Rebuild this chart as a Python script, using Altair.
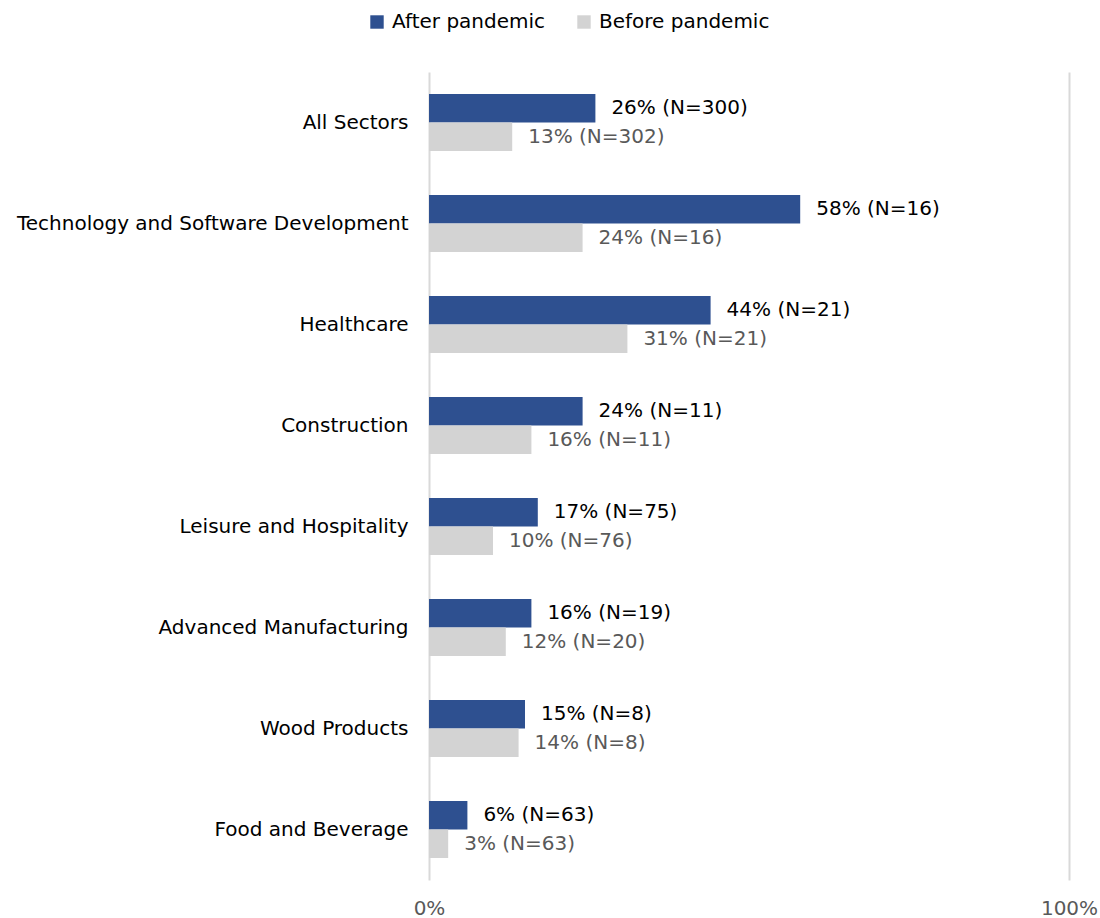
import altair as alt
import pandas as pd

categories = ["All Sectors", "Technology and Software Development", "Healthcare",
              "Construction", "Leisure and Hospitality", "Advanced Manufacturing",
              "Wood Products", "Food and Beverage"]
after_pct = [26, 58, 44, 24, 17, 16, 15, 6]
after_n = [300, 16, 21, 11, 75, 19, 8, 63]
before_pct = [13, 24, 31, 16, 10, 12, 14, 3]
before_n = [302, 16, 21, 11, 76, 20, 8, 63]
series = ["After pandemic", "Before pandemic"]
colors = ["#2E5090", "#D3D3D3"]
label_colors = ["#000000", "#595959"]

rows = []
for i, c in enumerate(categories):
    rows.append({"cat": c, "series": series[0], "v": after_pct[i] / 100,
                 "label": f"{after_pct[i]}% (N={after_n[i]})", "lc": label_colors[0]})
    rows.append({"cat": c, "series": series[1], "v": before_pct[i] / 100,
                 "label": f"{before_pct[i]}% (N={before_n[i]})", "lc": label_colors[1]})
df = pd.DataFrame(rows)

FONT = "DejaVu Sans"
FS = 20

y = alt.Y("cat:N", sort=categories,
          scale=alt.Scale(paddingInner=0.436, paddingOuter=0.218),
          axis=alt.Axis(title=None, domain=False, ticks=False, labelFontSize=FS,
                        labelColor="#000000", labelPadding=21, labelFont=FONT, labelLimit=600))
x = alt.X("v:Q", scale=alt.Scale(domain=[0, 1], nice=False),
          axis=alt.Axis(title=None, values=[0, 1], format=".0%", domain=False, ticks=False,
                        grid=True, gridColor="#D9D9D9", gridWidth=2, labelFontSize=FS,
                        labelColor="#595959", labelPadding=18, labelFont=FONT,
                        labelFlush=False))
yoff = alt.YOffset("series:N", sort=series, scale=alt.Scale(paddingInner=0, paddingOuter=0))

bars = alt.Chart(df).mark_bar(size=28.5).encode(
    y=y, x=x, yOffset=yoff,
    color=alt.Color("series:N", sort=series,
                    scale=alt.Scale(domain=series, range=colors),
                    legend=alt.Legend(title=None, orient="none", direction="horizontal",
                                      legendX=-62, legendY=-60, symbolType="square",
                                      symbolSize=180, symbolStrokeWidth=0,
                                      labelFontSize=FS, labelFont=FONT, labelColor="#000000",
                                      labelLimit=400, columnPadding=28, labelOffset=5)),
)

text = alt.Chart(df).mark_text(align="left", baseline="middle", dx=16, fontSize=FS,
                               font=FONT).encode(
    y=y, x=x, yOffset=yoff,
    text="label:N",
    color=alt.Color("lc:N", scale=None, legend=None),
)

chart = alt.layer(bars, text).resolve_scale(color="independent").properties(
    width=640, height=808,
    padding={"left": 429, "top": 72, "right": 31, "bottom": 38},
    autosize=alt.AutoSizeParams(type="none"),
    background="white",
).configure_view(strokeWidth=0, stroke="transparent")

chart.save("out.html", embed_options={"renderer": "svg", "actions": False})
